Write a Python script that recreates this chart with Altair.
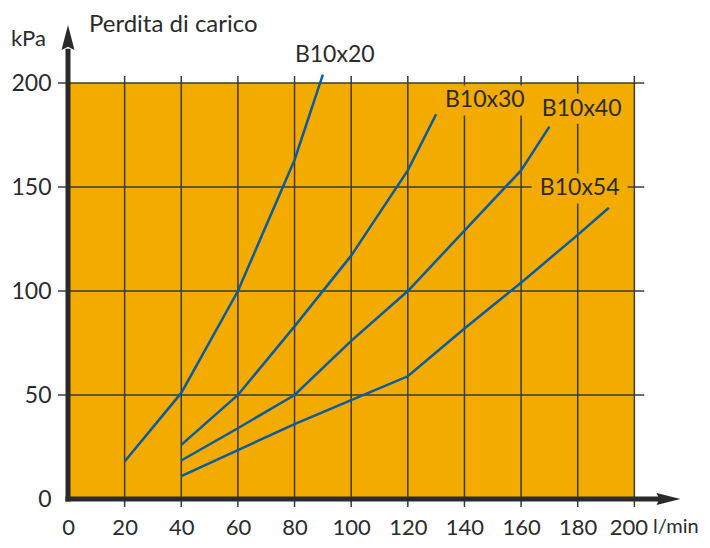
import altair as alt
import pandas as pd

# ---------------- data ----------------
series_names = ["B10x20", "B10x30", "B10x40", "B10x54"]

flow_b10x20 = [20, 40, 60, 80, 90]
dp_b10x20 = [18, 51, 100, 163, 204]

flow_b10x30 = [40, 60, 80, 100, 120, 130]
dp_b10x30 = [26, 50, 83, 117, 158, 185]

flow_b10x40 = [40, 60, 80, 100, 120, 140, 160, 170]
dp_b10x40 = [18.5, 34, 50, 76, 100, 129, 158, 179]

flow_b10x54 = [40, 60, 80, 100, 120, 140, 160, 180, 191]
dp_b10x54 = [11, 23.5, 36, 47.5, 59, 82, 104, 127, 140]

label_x = [94.2, 147.2, 181.4, 180.7]
label_y = [213.6, 191.6, 187.6, 149.3]

x_ticks = [0, 20, 40, 60, 80, 100, 120, 140, 160, 180, 200]
y_ticks = [0, 50, 100, 150, 200]

title_text = "Perdita di carico"
y_unit = "kPa"
x_unit = "l/min"

# ---------------- styling ----------------
ORANGE = "#f3ab00"
BLUE = "#0b5aa2"
GRID = "#3a3a3a"
AXIS = "#2a2a2a"
TXT = "#2b2b2b"
FONT = "Lato"

xs = alt.Scale(domain=[0, 220], nice=False, zero=False)
ys = alt.Scale(domain=[0, 225], nice=False, zero=False)

xaxis = alt.Axis(values=x_ticks, title=None, domain=False, ticks=False, tickSize=0,
                 grid=False, labelFont=FONT, labelFontSize=22, labelColor=TXT,
                 labelPadding=28, labelBaseline="middle", labelFlush=False,
                 labelOverlap=False, format="d",
                 labelOffset={"condition": {"test": "datum.value == 200", "value": -6},
                              "value": 0})
yaxis = alt.Axis(values=y_ticks, title=None, domain=False, ticks=False, tickSize=0,
                 grid=False, labelFont=FONT, labelFontSize=23, labelColor=TXT,
                 labelPadding=17, labelAlign="right", labelBaseline="middle",
                 labelFlush=False, labelOverlap=False, format="d")


def X(field):
    return alt.X(field, scale=xs, axis=xaxis)


def Y(field):
    return alt.Y(field, scale=ys, axis=yaxis)


# ---------------- tables ----------------
bg_df = pd.DataFrame({"x0": [0], "x1": [200], "y0": [0], "y1": [200]})
vgrid_df = pd.DataFrame({"x": x_ticks[1:], "y0": -3.85, "y1": 203.4})
hgrid_df = pd.DataFrame({"y": y_ticks[1:], "x0": -3.5, "x1": 203.5})

rows = []
for name, fl, dp in [("B10x20", flow_b10x20, dp_b10x20),
                     ("B10x30", flow_b10x30, dp_b10x30),
                     ("B10x40", flow_b10x40, dp_b10x40),
                     ("B10x54", flow_b10x54, dp_b10x54)]:
    for f, d in zip(fl, dp):
        rows.append({"series": name, "flow": f, "dp": d})
lines_df = pd.DataFrame(rows)

labels_df = pd.DataFrame({"text": series_names, "x": label_x, "y": label_y})
labels_bg_df = labels_df.iloc[1:].copy()

yaxis_line_df = pd.DataFrame({"x": [0], "y0": [-1.2], "y1": [216.5]})
xaxis_line_df = pd.DataFrame({"y": [0], "x0": [-0.9], "x1": [209]})
xarrow_df = pd.DataFrame({"x": [212.05], "y": [0]})
yarrow_df = pd.DataFrame({"x": [0], "y": [221.9]})

title_df = pd.DataFrame({"x": [7.4], "y": [228.0], "text": [title_text]})
kpa_df = pd.DataFrame({"x": [-7.8], "y": [221.2], "text": [y_unit]})
lmin_df = pd.DataFrame({"x": [206.6], "y": [-13.5], "text": [x_unit]})

# ---------------- layers ----------------
bg = alt.Chart(bg_df).mark_rect(color=ORANGE).encode(
    x=X("x0:Q"), x2="x1:Q", y=Y("y0:Q"), y2="y1:Q")

vgrid = alt.Chart(vgrid_df).mark_rule(color=GRID, strokeWidth=1.5).encode(
    x=X("x:Q"), y=Y("y0:Q"), y2="y1:Q")

hgrid = alt.Chart(hgrid_df).mark_rule(color=GRID, strokeWidth=1.5).encode(
    y=Y("y:Q"), x=X("x0:Q"), x2="x1:Q")

label_bg = alt.Chart(labels_bg_df).mark_point(
    shape="M-1,-0.3125 L1,-0.3125 L1,0.3125 L-1,0.3125 Z",
    size=9216, filled=True, color=ORANGE, opacity=1, strokeWidth=0).encode(
    x=X("x:Q"), y=Y("y:Q"))

lines = alt.Chart(lines_df).mark_line(color=BLUE, strokeWidth=2.5).encode(
    x=X("flow:Q"), y=Y("dp:Q"), detail="series:N")

yaxis_line = alt.Chart(yaxis_line_df).mark_rule(color=AXIS, strokeWidth=5).encode(
    x=X("x:Q"), y=Y("y0:Q"), y2="y1:Q")

xaxis_line = alt.Chart(xaxis_line_df).mark_rule(color=AXIS, strokeWidth=5).encode(
    y=Y("y:Q"), x=X("x0:Q"), x2="x1:Q")

xarrow = alt.Chart(xarrow_df).mark_point(
    shape="M1,0 L-1,-0.5 L-0.75,0 L-1,0.5 Z", size=576,
    filled=True, color=AXIS, opacity=1, strokeWidth=0).encode(
    x=X("x:Q"), y=Y("y:Q"))

yarrow = alt.Chart(yarrow_df).mark_point(
    shape="M0,-1 L0.52,1 L0,0.75 L-0.52,1 Z", size=625,
    filled=True, color=AXIS, opacity=1, strokeWidth=0).encode(
    x=X("x:Q"), y=Y("y:Q"))

series_text = alt.Chart(labels_df).mark_text(
    font=FONT, fontSize=23, color=TXT, align="center", baseline="middle").encode(
    x=X("x:Q"), y=Y("y:Q"), text="text:N")

title = alt.Chart(title_df).mark_text(
    font=FONT, fontSize=24, color=TXT, align="left", baseline="middle").encode(
    x=X("x:Q"), y=Y("y:Q"), text="text:N")

kpa = alt.Chart(kpa_df).mark_text(
    font=FONT, fontSize=22, color=TXT, align="right", baseline="middle").encode(
    x=X("x:Q"), y=Y("y:Q"), text="text:N")

lmin = alt.Chart(lmin_df).mark_text(
    font=FONT, fontSize=20, color=TXT, align="left", baseline="middle").encode(
    x=X("x:Q"), y=Y("y:Q"), text="text:N")

chart = alt.layer(
    bg, vgrid, hgrid, label_bg, lines, yaxis_line, xaxis_line,
    xarrow, yarrow, series_text, title, kpa, lmin
).properties(
    width=623, height=468,
    autosize=alt.AutoSizeParams(type="none"),
    padding={"left": 60, "top": 23, "right": 11, "bottom": 41},
    background="white",
).configure_view(strokeWidth=0)

chart.save("out.html", embed_options={"renderer": "svg", "actions": False})
